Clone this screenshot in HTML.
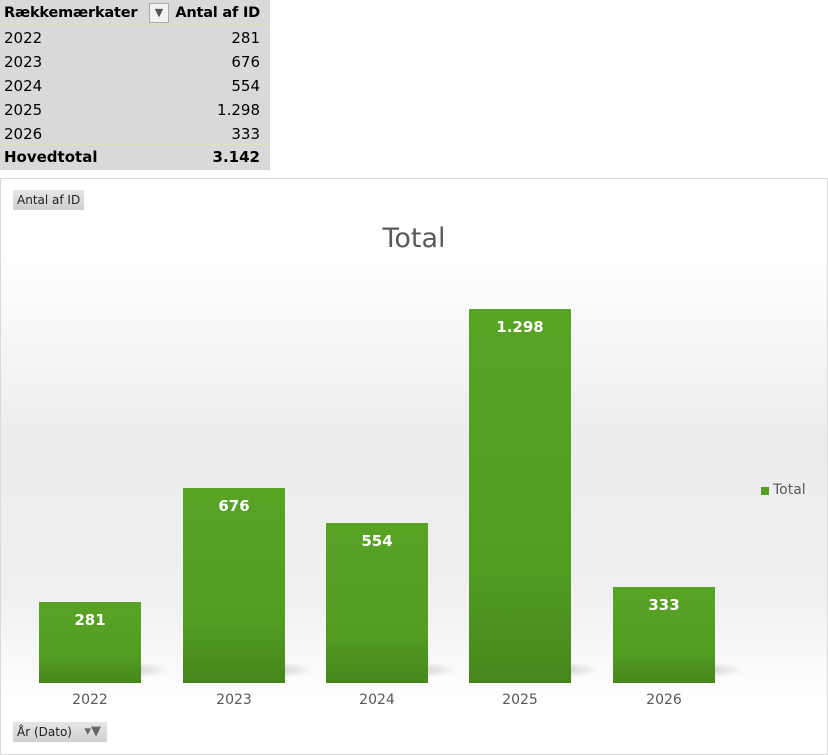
<!DOCTYPE html><html><head><style>
body{margin:0;width:828px;height:755px;background:#fff;position:relative;overflow:hidden;font-family:"DejaVu Sans","Liberation Sans",sans-serif;}
.t{position:absolute;left:0;top:0;width:270px;height:170px;background:#d9d9d9;font-size:15px;color:#000}
.r{position:absolute;left:4px;width:256px;height:24px;line-height:24px}
.r span{position:absolute;right:0}
.chart{position:absolute;left:0;top:178px;width:826px;height:575px;border:1px solid #d9d9d9;background:linear-gradient(to bottom,#fff 0px,#fff 80px,#ececec 260px,#f0f0f0 420px,#fff 520px)}
.bar{position:absolute;width:102px;background:linear-gradient(to bottom,#58a324,#529c22 70%,#47861c);color:#fff;font-weight:bold;font-size:15px;text-align:center;padding-top:9px;box-sizing:border-box}
.sh{position:absolute;height:16px;width:40px;background:radial-gradient(ellipse at left,rgba(0,0,0,.18),rgba(0,0,0,0) 70%)}
.xl{position:absolute;top:692px;width:102px;text-align:center;font-size:14px;color:#595959}
.btn{position:absolute;background:linear-gradient(#e6e6e6,#cfcfcf);font-size:12px;color:#222;height:20px;line-height:20px;padding:0 4px}
</style></head><body>
<div class="t">
<div class="r" style="top:1px;font-weight:bold;font-size:14.5px;letter-spacing:-0.2px">Rækkemærkater<span>Antal af ID</span></div>
<div style="position:absolute;left:149px;top:3px;width:18px;height:18px;background:#f2f2f2;border:1px solid #aaa;font-size:11px;text-align:center;line-height:18px;color:#555">▼</div>
<div style="position:absolute;left:0;top:25px;width:270px;height:1px;background:#dfe4b0"></div>
<div class="r" style="top:26px">2022<span>281</span></div>
<div class="r" style="top:50px">2023<span>676</span></div>
<div class="r" style="top:74px">2024<span>554</span></div>
<div class="r" style="top:98px">2025<span>1.298</span></div>
<div class="r" style="top:122px">2026<span>333</span></div>
<div style="position:absolute;left:0;top:144px;width:270px;height:1px;background:#dfe4b0"></div>
<div class="r" style="top:145px;font-weight:bold">Hovedtotal<span>3.142</span></div>
</div>
<div class="chart"></div>
<div class="btn" style="left:13px;top:190px">Antal af ID</div>
<div style="position:absolute;left:0;width:828px;top:223px;text-align:center;font-size:27px;color:#595959">Total</div>
<div class="sh" style="left:130px;top:662px"></div>
<div class="sh" style="left:274px;top:662px"></div>
<div class="sh" style="left:417px;top:662px"></div>
<div class="sh" style="left:560px;top:662px"></div>
<div class="sh" style="left:704px;top:662px"></div>
<div class="bar" style="left:39px;top:602px;height:81px">281</div>
<div class="bar" style="left:183px;top:488px;height:195px">676</div>
<div class="bar" style="left:326px;top:523px;height:160px">554</div>
<div class="bar" style="left:469px;top:309px;height:374px">1.298</div>
<div class="bar" style="left:613px;top:587px;height:96px">333</div>
<div class="xl" style="left:39px">2022</div>
<div class="xl" style="left:183px">2023</div>
<div class="xl" style="left:326px">2024</div>
<div class="xl" style="left:469px">2025</div>
<div class="xl" style="left:613px">2026</div>
<div style="position:absolute;left:761px;top:487px;width:8px;height:8px;background:#55a023"></div>
<div style="position:absolute;left:773px;top:482px;font-size:14px;color:#595959">Total</div>
<div class="btn" style="left:13px;top:722px;width:86px">År (Dato) <span style="position:absolute;right:6px;color:#666;font-size:13px">▾▼</span></div>
</body></html>
